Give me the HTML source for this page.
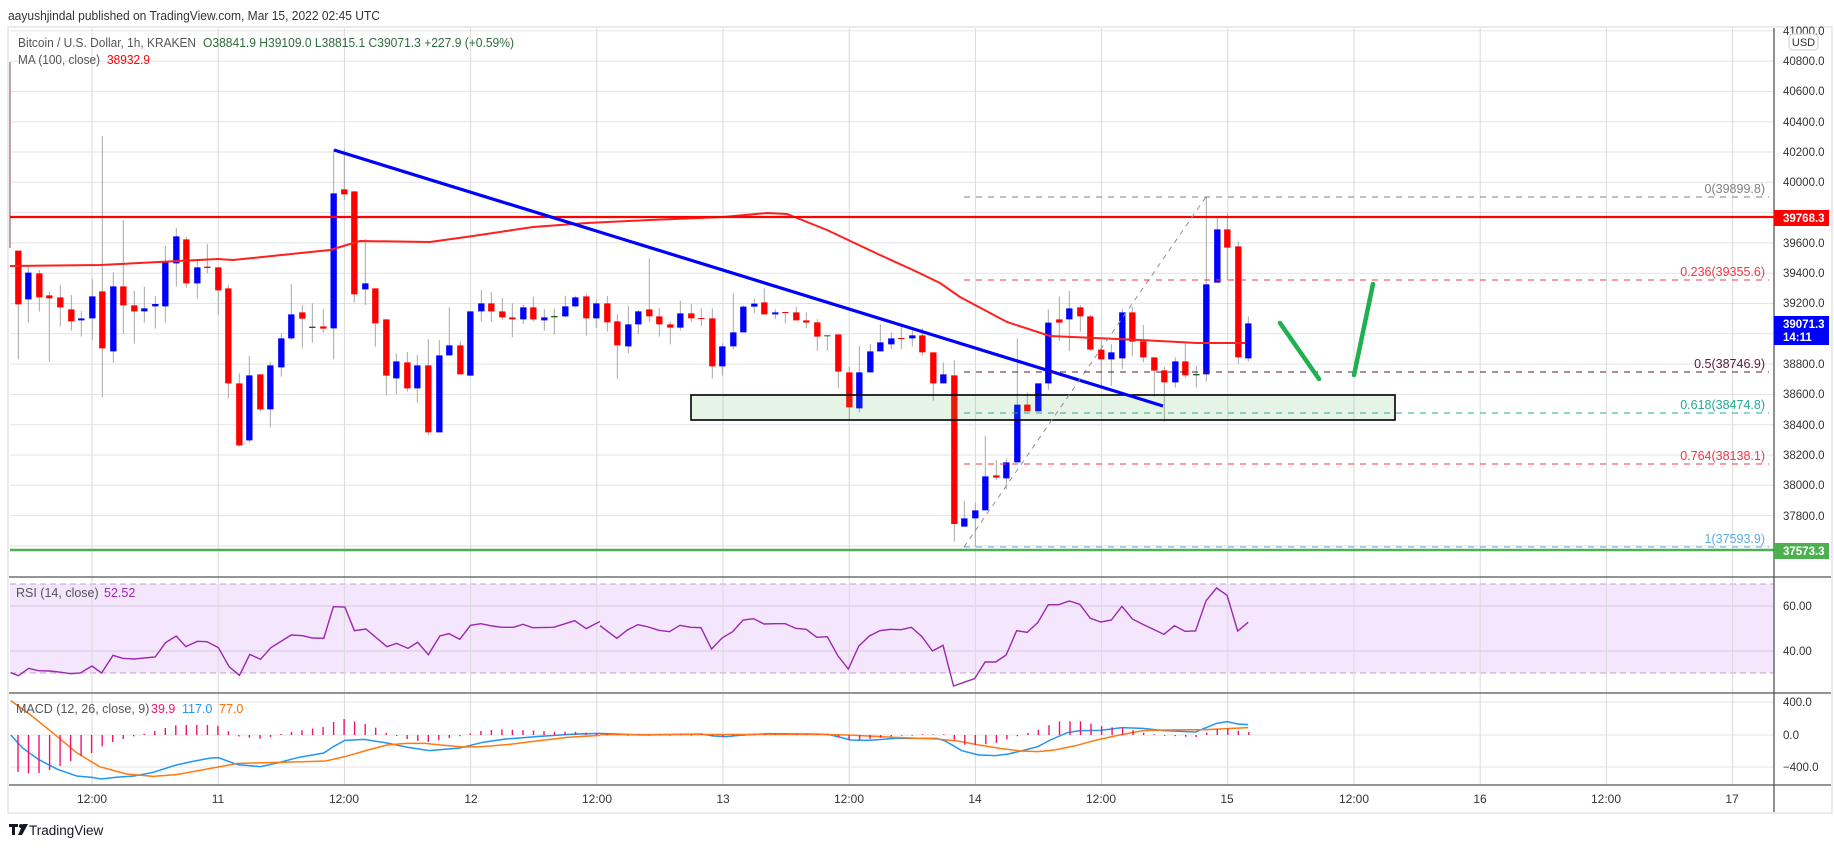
<!DOCTYPE html>
<html><head><meta charset="utf-8"><style>
html,body{margin:0;padding:0;background:#fff;}
svg{display:block;font-family:"Liberation Sans",sans-serif;}
.w{stroke:#a8a8a8;stroke-width:3;fill:none}
.r{stroke:#ff0000;stroke-width:19;fill:none}
.b{stroke:#0000ff;stroke-width:19;fill:none}
.g{stroke:#1b5e20;stroke-width:19;fill:none}
.ns{vector-effect:non-scaling-stroke;fill:none}
</style></head><body>
<svg width="1834" height="848" viewBox="0 0 1834 848" xmlns="http://www.w3.org/2000/svg">
<rect x="0" y="0" width="1834" height="848" fill="#fff"/>
<path stroke="#e3e3e3" stroke-width="1" fill="none" d="M10 30.8H1774M10 61.1H1774M10 91.4H1774M10 121.7H1774M10 152H1774M10 182.3H1774M10 212.6H1774M10 242.9H1774M10 273.2H1774M10 303.5H1774M10 333.8H1774M10 364.1H1774M10 394.4H1774M10 424.7H1774M10 455H1774M10 485.3H1774M10 515.6H1774M10 545.9H1774"/>
<rect x="10" y="584" width="1764" height="89" fill="#f3e6fd"/>
<line x1="10" y1="584" x2="1774" y2="584" stroke="#b9a7c8" stroke-dasharray="6,4"/>
<line x1="10" y1="673" x2="1774" y2="673" stroke="#b9a7c8" stroke-dasharray="6,4"/>
<line x1="10" y1="606" x2="1774" y2="606" stroke="#d8c8e4"/>
<line x1="10" y1="651" x2="1774" y2="651" stroke="#d8c8e4"/>
<line x1="10" y1="702" x2="1774" y2="702" stroke="#e3e3e3"/>
<line x1="10" y1="735" x2="1774" y2="735" stroke="#e3e3e3"/>
<line x1="10" y1="767" x2="1774" y2="767" stroke="#e3e3e3"/>
<path stroke="#dadada" stroke-width="1" fill="none" d="M92 28V785M218.2 28V785M344.4 28V785M470.6 28V785M596.8 28V785M723 28V785M849.2 28V785M975.4 28V785M1101.6 28V785M1227.8 28V785M1354 28V785M1480.2 28V785M1606.4 28V785M1732.6 28V785"/>
<line x1="10" y1="62" x2="10" y2="248" stroke="#a98686" stroke-width="1.5"/>

<g transform="translate(0,120) scale(0.33333)">
<path class="w" d="M55 392V718M85 440V608M118 450V575M148 515V725M181 495V620M214 525V632M244 573V650M277 477V660M307 48V832M340 457V728M370 300V642M403 513V670M433 500V608M466 528V626M496 378V608M529 324V500M559 352V503M592 418V536M622 372V460M655 442V585M685 495V835M718 760V980M748 708V968M781 763V875M811 726V922M844 640V770M874 492V660M907 555V686M937 550V668M970 567V638"/>
<path class="r" d="M55 392V553M118 460V532M148 526V535M181 532V562M214 568V604M307 514V685M370 499V556M403 556V574M559 358V490M622 440V444M655 442V511M685 505V790M718 790V976M781 763V868M907 577V596M970 619V626"/>
<path class="b" d="M85 458V538M244 595V601M277 529V595M340 499V694M433 565V574M466 552V559M496 427V559M529 349V430M592 442V490M748 766V961M811 736V868M844 655V742M874 583V655"/>
<path class="g" d="M937 620V624"/>
</g>
<g transform="translate(320,120) scale(0.33333)">
<path class="w" d="M41 88V718M73 85V240M103 214V548M136 357V555M166 505V680M199 598V827M229 700V822M262 696V815M292 705V848M325 657V945M358 660V937M388 562V706M421 664V763M451 574V767M484 510V605M514 516V605M547 534V600M577 550V652M610 555V612M640 530V604M673 567V632M703 565V643M736 527V592M766 527V562M799 521V647M829 538V624M862 528V635M892 582V776M925 558V700M955 570V643M988 415V605"/>
<path class="r" d="M73 208V223M103 214V523M166 505V610M199 598V767M262 727V805M325 736V937M421 676V763M514 550V574M547 574V592M577 592V598M640 562V598M799 529V595M862 550V607M892 604V676M988 568V589"/>
<path class="b" d="M41 220V625M136 490V508M229 724V775M292 736V805M358 706V937M388 676V706M451 574V767M484 550V574M610 562V598M673 592V601M736 559V589M766 532V559M829 550V595M925 613V679M955 574V613"/>
<path class="g" d="M703 588V592"/>
</g>
<g transform="translate(640,200) scale(0.33333)">
<path class="w" d="M58 324V410M91 365V433M121 303V392M154 312V365M184 325V378M217 325V536M247 430V527M280 280V447M310 316V397M343 295V340M373 265V343M406 328V357M436 335V370M469 320V361M499 337V385M532 357V452M562 405V452M595 403V565M628 500V660M658 438V637M691 432V517M721 373V454M754 397V447M784 381V448M817 391V440M847 385V467M880 457V602M910 487V550M943 481V1025"/>
<path class="r" d="M58 349V373M91 373V383M154 340V355M184 354V357M217 355V499M373 307V343M436 336V339M469 337V361M499 361V368M532 367V410M595 403V515M628 517V622M784 414V417M847 406V457M880 457V550M943 526V972"/>
<path class="b" d="M121 340V383M247 439V499M280 397V439M310 320V397M343 311V320M406 337V343M658 517V625M691 454V517M721 427V454M754 415V433M817 406V415M910 523V550"/>
<path class="g" d="M562 406V409"/>
</g>
<g transform="translate(940,180) scale(0.33333)">
<path class="w" d="M73 963V1040M106 968V1100M136 768V991M169 840V900M199 835V928M232 475V847M262 638V694M295 610V694M325 388V630M358 350V483M388 333V513M421 375V455M451 405V513M484 480V620M514 492V618M547 387V567M577 380V528M610 435V547M643 532V650M673 560V725M706 532V623M736 490V593M769 558V623M799 50V605M832 112V308M862 100V300M895 185V552M925 410V545"/>
<path class="r" d="M169 886V893M262 674V694M358 418V428M421 382V409M451 409V509M484 509V538M577 397V485M610 484V532M643 532V572M673 571V607M736 544V586M862 148V203M895 199V532"/>
<path class="b" d="M73 1015V1040M106 991V1015M136 889V991M199 847V895M232 674V847M295 610V694M325 428V610M388 385V418M514 517V538M547 397V535M706 544V607M799 313V583M832 148V308M925 430V535"/>
<path class="g" d="M769 582V586"/>
</g>

<polyline fill="none" stroke="#ff1f1f" stroke-width="2" points="10,266 100,265 218,259 233,260 330,250 360,241 430,242 473,236 533,227 587,223 650,220 723,217 767,213 787,214 827,230 880,255 913,270 940,283 960,297 1007,322 1050,336 1140,340 1197,343 1245,343"/>
<line x1="10" y1="217" x2="1774" y2="217" stroke="#ff0000" stroke-width="2.2"/>
<line x1="10" y1="550" x2="1774" y2="550" stroke="#4caf50" stroke-width="2.5"/>
<rect x="691" y="395" width="704" height="25" fill="rgba(76,175,80,0.14)" stroke="#000" stroke-width="1.6"/>
<line x1="334" y1="150" x2="1163" y2="406" stroke="#0000ff" stroke-width="3.2"/>
<line x1="964" y1="547" x2="1206" y2="197" stroke="#909090" stroke-width="1" stroke-dasharray="5,5"/>
<line x1="964" y1="197" x2="1769" y2="197" stroke="#808080" stroke-dasharray="6,6"/>
<line x1="964" y1="280" x2="1769" y2="280" stroke="#f23645" stroke-dasharray="6,6"/>
<line x1="964" y1="372" x2="1769" y2="372" stroke="#5b1a3c" stroke-dasharray="6,6"/>
<line x1="964" y1="413" x2="1769" y2="413" stroke="#22ab94" stroke-dasharray="6,6"/>
<line x1="964" y1="464" x2="1769" y2="464" stroke="#f23645" stroke-dasharray="6,6"/>
<line x1="964" y1="547" x2="1769" y2="547" stroke="#5cacdf" stroke-dasharray="6,6"/>
<g font-size="12.5" text-anchor="end">
<text x="1765" y="193" fill="#808080">0(39899.8)</text>
<text x="1765" y="276" fill="#f23645">0.236(39355.6)</text>
<text x="1765" y="368" fill="#5b1a3c">0.5(38746.9)</text>
<text x="1765" y="409" fill="#22ab94">0.618(38474.8)</text>
<text x="1765" y="460" fill="#f23645">0.764(38138.1)</text>
<text x="1765" y="543" fill="#5cacdf">1(37593.9)</text>
</g>
<line x1="1280" y1="323" x2="1319" y2="379" stroke="#1fb050" stroke-width="4.5" stroke-linecap="round"/>
<line x1="1354" y1="375" x2="1373" y2="284" stroke="#1fb050" stroke-width="4.5" stroke-linecap="round"/>

<g transform="translate(0,560) scale(0.38314,0.33333)">
<polyline class="ns" stroke="#9c27b0" stroke-width="1.4" points="28,338 48,347 75,325 100,332 130,333 160,337 185,341 210,339 240,318 265,339 295,286 320,295 350,297 405,291 432,248 460,228 485,260 515,244 540,245 570,263 598,320 625,346 652,283 680,298 707,263 760,225 790,227 815,234 845,235 870,140 900,141 925,212 955,207 1010,260 1035,250 1065,265 1090,247 1118,284 1148,228 1172,221 1200,238 1228,196 1255,191 1285,198 1310,202 1340,202 1365,193 1390,203 1445,202 1500,182 1530,206 1560,188 1566,185"/>
<polyline class="ns" stroke="#2196f3" stroke-width="1.5" points="28,525 60,565 100,598 150,628 200,648 240,652 265,657 300,652 350,648 400,637 460,615 500,605 550,594 570,593 620,614 680,620 720,610 780,592 845,579 870,560 900,541 950,538 1010,549 1060,561 1120,572 1200,564 1260,547 1320,537 1400,530 1500,522 1566,520"/>
<polyline class="ns" stroke="#ff7a14" stroke-width="1.5" points="28,422 80,465 150,530 200,578 260,620 330,642 400,649 460,644 550,625 620,610 700,608 800,605 850,603 900,590 960,570 1010,555 1060,550 1110,550 1150,555 1210,561 1260,560 1330,553 1400,543 1480,532 1566,526"/>
</g>
<g transform="translate(600,580) scale(0.42088,0.33333)">
<polyline class="ns" stroke="#9c27b0" stroke-width="1.4" points="0,137 40,175 65,150 90,134 115,141 140,151 165,155 190,136 215,142 240,143 265,207 290,174 315,155 340,120 365,116 390,132 415,131 440,131 465,145 490,148 515,172 540,170 565,227 590,267 615,198 640,168 665,152 690,148 715,149 740,142 765,170 790,213 815,196 840,318 865,307 890,296 915,246 940,246 965,225 990,152 1015,157 1040,128 1065,74 1090,74 1115,63 1140,73 1165,115 1190,126 1215,120 1240,79 1265,117 1290,133 1315,148 1340,163 1365,137 1390,154 1415,153 1440,62 1465,24 1490,46 1515,153 1540,127"/>
<polyline class="ns" stroke="#2196f3" stroke-width="1.5" points="0,460 100,465 240,462 270,468 300,470 340,465 400,461 500,462 540,463 565,470 595,480 640,481 700,475 800,475 820,483 860,512 900,525 940,527 970,522 1000,513 1040,500 1070,480 1110,458 1140,452 1190,451 1240,443 1290,445 1340,452 1415,456 1440,443 1465,430 1490,425 1515,432 1540,434"/>
<polyline class="ns" stroke="#ff7a14" stroke-width="1.5" points="0,464 500,463 590,465 700,472 800,477 850,483 900,495 950,505 1000,513 1040,515 1080,510 1130,497 1180,480 1230,466 1290,452 1340,450 1440,449 1490,446 1540,443"/>
</g>
<path stroke="#f0146e" stroke-width="1.4" fill="none" d="M18 735V772M28.5 735V773.5M39 735V773M49.6 735V770M60.1 735V766M70.6 735V761M81.1 735V756M91.6 735V753M102.2 735V746.4M112.7 735V742M123.2 735V739M133.7 735V736.4M144.2 735V733.7M154.8 735V731M165.3 735V728M175.8 735V725.3M186.3 735V725M196.8 735V725M207.4 735V725M217.9 735V725.7M228.4 735V731.3M238.9 735V736.5M249.4 735V737.7M260 735V738.8M270.5 735V737M281 735V734M291.5 735V732M302 735V730.2M312.6 735V728.5M323.1 735V727M333.6 735V722M344.1 735V719M354.6 735V721.5M365.2 735V724M375.7 735V727.6M386.2 735V732.7M396.7 735V736M407.2 735V739M417.8 735V741M428.3 735V742M438.8 735V740.3M449.3 735V738M459.8 735V736.3M470.4 735V733.5M480.9 735V731M491.4 735V730M501.9 735V729.4M512.4 735V729.8M523 735V730.1M533.5 735V730.6M544 735V731.1M554.5 735V731.7M565 735V731.8M575.6 735V731.8M586.1 735V732.6M596.6 735V733.2M607.1 735V733.9M617.6 735V734.2M628.2 735V735.8M638.7 735V734.2M649.2 735V735.8M659.7 735V734.2M670.2 735V735.8M680.8 735V734.2M691.3 735V735.8M701.8 735V734.2M712.3 735V736.3M722.8 735V737M733.4 735V736.5M743.9 735V735.8M754.4 735V734.2M764.9 735V734.3M775.4 735V734.4M786 735V734.5M796.5 735V734.2M807 735V734.2M817.5 735V734.2M828 735V734.2M838.6 735V737.1M849.1 735V739.9M859.6 735V739.5M870.1 735V739.1M880.6 735V737.8M891.2 735V736.4M901.7 735V735.8M912.2 735V735.8M922.7 735V734.2M933.2 735V734.4M943.8 735V734.2M954.3 735V739.9M964.8 735V744.8M975.3 735V744.9M985.8 735V744.3M996.4 735V742.9M1006.9 735V739.5M1017.4 735V736.3M1027.9 735V732.9M1038.4 735V729.8M1049 735V725.1M1059.5 735V721.4M1070 735V721.3M1080.5 735V721.3M1091 735V723.6M1101.6 735V726.1M1112.1 735V727.2M1122.6 735V727.8M1133.1 735V730.1M1143.6 735V732.7M1154.2 735V734.2M1164.7 735V735.8M1175.2 735V736.1M1185.7 735V736.7M1196.2 735V737.1M1206.8 735V732.7M1217.3 735V729M1227.8 735V728.2M1238.3 735V730.8M1248.8 735V732"/>

<line x1="9" y1="577" x2="1832" y2="577" stroke="#555" stroke-width="1.3"/>
<line x1="9" y1="693" x2="1832" y2="693" stroke="#555" stroke-width="1.3"/>
<line x1="9" y1="785" x2="1832" y2="785" stroke="#555" stroke-width="1.3"/>
<line x1="1774" y1="27" x2="1774" y2="813" stroke="#555" stroke-width="1.3"/>
<rect x="8" y="27" width="1824" height="786" fill="none" stroke="#eaebef" stroke-width="2"/>
<g font-size="11.5" fill="#333">
<text x="1783" y="35">41000.0</text>
<text x="1783" y="65">40800.0</text>
<text x="1783" y="95">40600.0</text>
<text x="1783" y="126">40400.0</text>
<text x="1783" y="156">40200.0</text>
<text x="1783" y="186">40000.0</text>
<text x="1783" y="247">39600.0</text>
<text x="1783" y="277">39400.0</text>
<text x="1783" y="307">39200.0</text>
<text x="1783" y="368">38800.0</text>
<text x="1783" y="398">38600.0</text>
<text x="1783" y="429">38400.0</text>
<text x="1783" y="459">38200.0</text>
<text x="1783" y="489">38000.0</text>
<text x="1783" y="520">37800.0</text>
<text x="1783" y="610">60.00</text>
<text x="1783" y="655">40.00</text>
<text x="1783" y="706">400.0</text>
<text x="1783" y="739">0.0</text>
<text x="1783" y="771">−400.0</text>
</g>
<rect x="1789" y="34" width="29" height="16" rx="4" fill="#fff" stroke="#ccc"/>
<text x="1803.5" y="46" font-size="11" fill="#333" text-anchor="middle">USD</text>
<rect x="1774" y="210" width="55" height="16" fill="#ff0000"/>
<text x="1783" y="222" font-size="11.5" fill="#fff" font-weight="bold">39768.3</text>
<rect x="1774" y="316" width="55" height="29" fill="#0000ff"/>
<text x="1783" y="328" font-size="11.5" fill="#fff" font-weight="bold">39071.3</text>
<text x="1783" y="341" font-size="11.5" fill="#fff" font-weight="bold">14:11</text>
<rect x="1774" y="543" width="55" height="16" fill="#4caf50"/>
<text x="1783" y="555" font-size="11.5" fill="#fff" font-weight="bold">37573.3</text>
<g font-size="12" fill="#333" text-anchor="middle">
<text x="92" y="803">12:00</text><text x="218" y="803">11</text>
<text x="344" y="803">12:00</text><text x="471" y="803">12</text>
<text x="597" y="803">12:00</text><text x="723" y="803">13</text>
<text x="849" y="803">12:00</text><text x="975" y="803">14</text>
<text x="1101" y="803">12:00</text><text x="1227" y="803">15</text>
<text x="1354" y="803">12:00</text><text x="1480" y="803">16</text>
<text x="1606" y="803">12:00</text><text x="1732" y="803">17</text>
</g>
<text x="8" y="20" font-size="13" fill="#333" textLength="372" lengthAdjust="spacingAndGlyphs">aayushjindal published on TradingView.com, Mar 15, 2022 02:45 UTC</text>
<text x="18" y="47" font-size="12.5" fill="#555" textLength="178" lengthAdjust="spacingAndGlyphs">Bitcoin / U.S. Dollar, 1h, KRAKEN</text>
<text x="203" y="47" font-size="12.5" fill="#2e6b3d" textLength="311" lengthAdjust="spacingAndGlyphs">O38841.9  H39109.0  L38815.1  C39071.3  +227.9 (+0.59%)</text>
<text x="18" y="64" font-size="12.5" fill="#555" textLength="82" lengthAdjust="spacingAndGlyphs">MA (100, close)</text>
<text x="107" y="64" font-size="12.5" fill="#ff0000" textLength="43" lengthAdjust="spacingAndGlyphs">38932.9</text>
<text x="16" y="597" font-size="12.5" fill="#555">RSI (14, close)</text>
<text x="104" y="597" font-size="12.5" fill="#9c27b0">52.52</text>
<text x="16" y="713" font-size="12.5" fill="#555">MACD (12, 26, close, 9)</text>
<text x="151" y="713" font-size="12.5" fill="#f0146e">39.9</text>
<text x="182" y="713" font-size="12.5" fill="#2196f3">117.0</text>
<text x="219" y="713" font-size="12.5" fill="#ff6d00">77.0</text>
<g fill="#131722">
<rect x="9" y="824" width="9" height="3"/><rect x="12" y="824" width="3" height="11"/>
<circle cx="21" cy="826" r="2"/><polygon points="23,824 28,824 22,835 18,835"/>
</g>
<text x="29" y="835" font-size="13.5" fill="#131722">TradingView</text>
</svg>
</body></html>
